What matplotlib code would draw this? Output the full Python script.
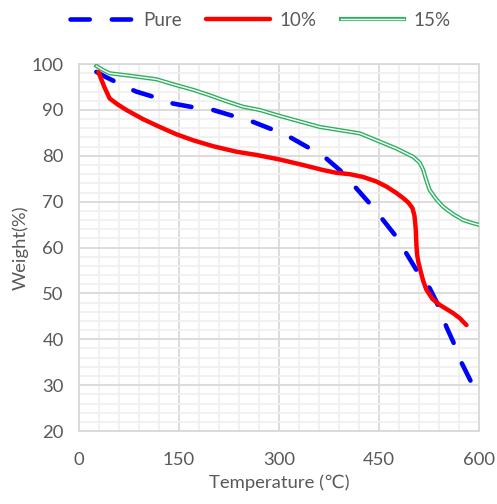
import numpy as np
import matplotlib.pyplot as plt
import matplotlib.patheffects as pe
from matplotlib.ticker import MultipleLocator

plt.rcParams['font.family'] = ['Lato', 'DejaVu Sans']

# Pure sample
pure_t = [26, 40, 54, 70, 86, 111, 141, 171, 201, 231, 261, 289, 316, 344, 371,
          391, 416, 436, 456, 474, 491, 506, 526, 536, 551, 561, 574, 587]
pure_w = [98.3, 97.2, 96.2, 95.0, 94.0, 92.9, 91.4, 90.6, 90.0, 88.7, 87.4, 85.8,
          84.1, 81.8, 79.4, 76.9, 72.9, 69.6, 66.0, 62.7, 58.7, 55.1, 51.1, 48.2,
          42.7, 39.5, 34.8, 31.0]

# 10% sample
t10 = [29, 38, 46, 58, 71, 96, 121, 146, 171, 201, 236, 266, 301, 336, 366, 386,
       406, 426, 446, 461, 476, 486, 494, 500, 503, 505, 506, 507, 509, 512, 516,
       521, 530, 541, 551, 561, 571, 581]
w10 = [98.3, 95.0, 92.5, 91.2, 90.0, 88.0, 86.3, 84.7, 83.4, 82.1, 80.9, 80.2,
       79.2, 78.0, 76.9, 76.3, 76.0, 75.4, 74.4, 73.3, 71.9, 70.8, 69.8, 68.6,
       67.0, 64.0, 60.5, 58.5, 56.8, 55.0, 52.8, 50.8, 48.8, 47.5, 46.6, 45.7,
       44.6, 43.1]

# 15% sample
t15 = [26, 36, 46, 80, 116, 146, 171, 196, 221, 246, 271, 301, 331, 361, 391,
       421, 451, 476, 501, 511, 516, 521, 526, 536, 546, 561, 576, 591, 601]
w15 = [99.6, 98.7, 98.0, 97.4, 96.7, 95.4, 94.4, 93.2, 91.9, 90.7, 90.0, 88.7,
       87.5, 86.3, 85.6, 84.9, 83.1, 81.6, 79.8, 78.5, 77.0, 74.6, 72.5, 70.5,
       68.9, 67.3, 66.0, 65.3, 64.9]

text_col = '#595959'

fig = plt.figure(figsize=(4.97, 5.04), dpi=100)
ax = fig.add_axes([0.159, 0.1448, 0.805, 0.728])
ax.set_xlim(0, 600)
ax.set_ylim(20, 100)

# stretch the gap a little so the dashed line starts and ends on a dash
blue_lw = 3.3
dash_on, gap0 = 4.2, 5.2
pix = ax.transData.transform(np.column_stack([pure_t, pure_w]))
length = np.hypot(*np.diff(pix, axis=0).T).sum() * 72 / fig.dpi / blue_lw
n = round((length - dash_on) / (dash_on + gap0))
gap = (length - dash_on) / n - dash_on

ax.plot(pure_t, pure_w, color='#0000ff', lw=blue_lw, dashes=(dash_on, gap),
        dash_capstyle='round', label='Pure', zorder=3)
ax.plot(t10, w10, color='#ff0000', lw=3.2, solid_capstyle='round',
        solid_joinstyle='round', label='10%', zorder=3)
ax.plot(t15, w15, color='white', lw=1.0, label='15%', zorder=3,
        solid_joinstyle='round',
        path_effects=[pe.Stroke(linewidth=3.0, foreground='#2eb060'), pe.Normal()])

ax.xaxis.set_major_locator(MultipleLocator(150))
ax.xaxis.set_minor_locator(MultipleLocator(30))
ax.yaxis.set_major_locator(MultipleLocator(10))
ax.yaxis.set_minor_locator(MultipleLocator(2))
ax.grid(which='minor', color='#f0f0f0', lw=1.3, zorder=0)
ax.grid(which='major', color='#d9d9d9', lw=1.3, zorder=1)
ax.set_axisbelow(True)
for s in ax.spines.values():
    s.set_color('#d9d9d9')
    s.set_linewidth(1.3)
ax.tick_params(which='both', length=0, labelsize=13.3, labelcolor=text_col)
ax.tick_params(axis='x', pad=15)
ax.tick_params(axis='y', pad=11)

ax.set_xlabel('Temperature (℃)', fontsize=13.3, color=text_col, labelpad=5)
ax.set_ylabel('Weight(%)', fontsize=13.3, color=text_col, labelpad=2)

h, l = ax.get_legend_handles_labels()
fig.legend(h, l, loc='center', bbox_to_anchor=(0.524, 0.96), ncol=3, frameon=False,
           fontsize=13.5, labelcolor=text_col, handlelength=3.4, columnspacing=1.3,
           handletextpad=0.5)

fig.savefig('out.png', dpi=100)
